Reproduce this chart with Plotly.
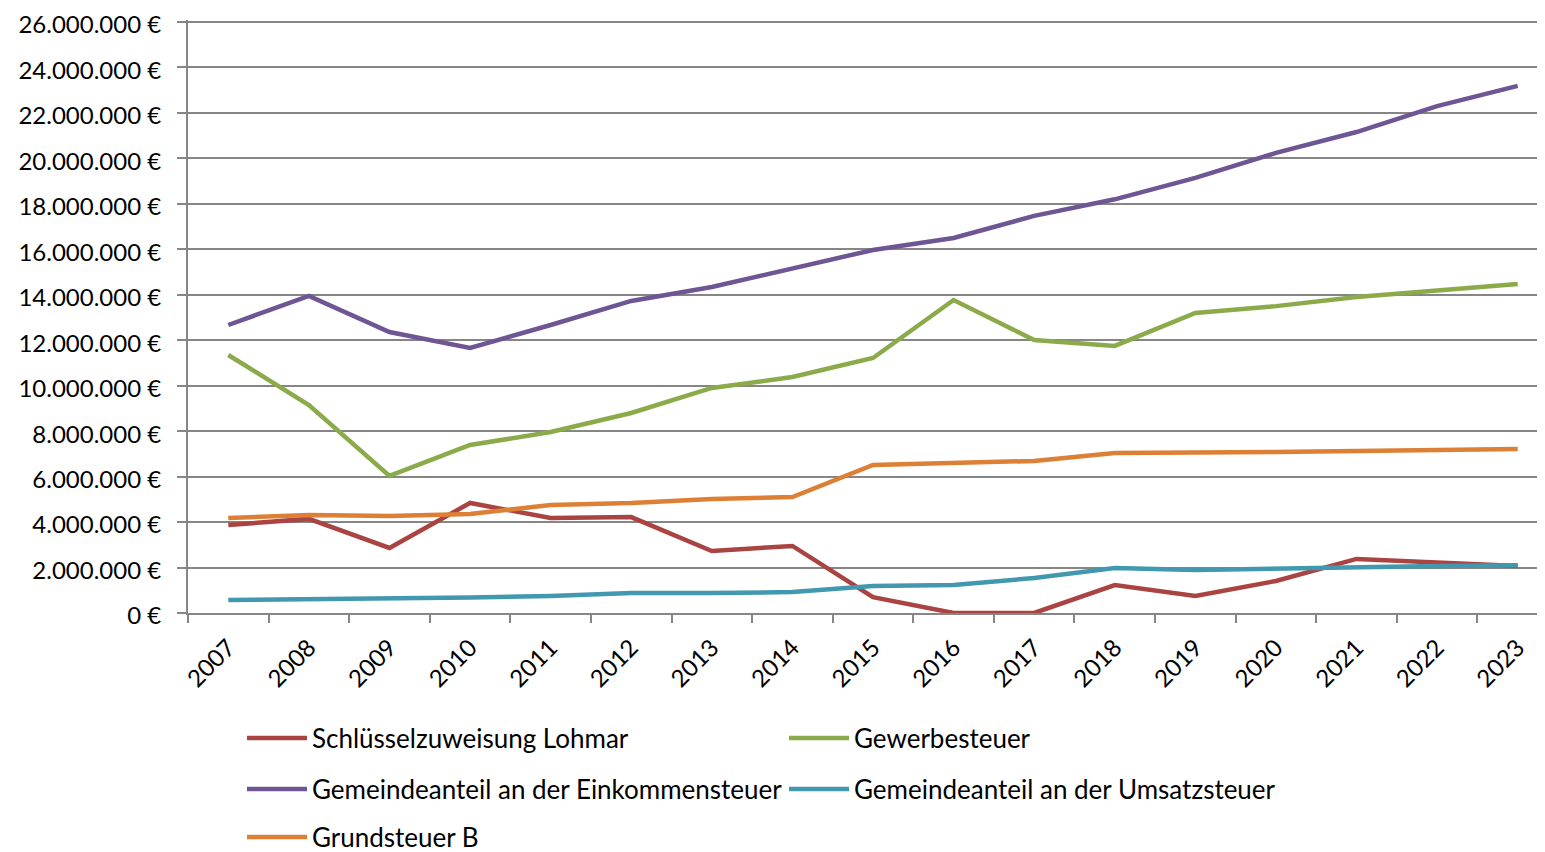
import plotly.graph_objects as go

years = [str(y) for y in range(2007, 2024)]

schluessel = [3.87e6, 4.14e6, 2.86e6, 4.84e6, 4.18e6, 4.22e6, 2.73e6, 2.95e6, 0.70e6, 0.0, 0.0,
              1.23e6, 0.75e6, 1.41e6, 2.38e6, 2.24e6, 2.07e6]
gewerbe = [11.35e6, 9.15e6, 6.03e6, 7.39e6, 7.96e6, 8.80e6, 9.90e6, 10.38e6, 11.22e6, 13.77e6, 12.01e6,
           11.75e6, 13.20e6, 13.50e6, 13.90e6, 14.20e6, 14.47e6]
einkommen = [12.67e6, 13.95e6, 12.36e6, 11.66e6, 12.67e6, 13.73e6, 14.34e6, 15.18e6, 15.97e6, 16.50e6, 17.47e6,
             18.20e6, 19.14e6, 20.24e6, 21.16e6, 22.30e6, 23.19e6]
umsatz = [0.57e6, 0.60e6, 0.66e6, 0.68e6, 0.75e6, 0.88e6, 0.88e6, 0.92e6, 1.19e6, 1.23e6, 1.54e6,
          1.98e6, 1.89e6, 1.96e6, 2.02e6, 2.07e6, 2.10e6]
grundsteuer = [4.18e6, 4.31e6, 4.27e6, 4.36e6, 4.75e6, 4.84e6, 5.02e6, 5.10e6, 6.51e6, 6.60e6, 6.69e6,
               7.04e6, 7.04e6, 7.08e6, 7.13e6, 7.17e6, 7.21e6]

series = [
    ("Schlüsselzuweisung Lohmar", schluessel, "#A94442", "legend"),
    ("Gewerbesteuer", gewerbe, "#8BAA4A", "legend"),
    ("Gemeindeanteil an der Einkommensteuer", einkommen, "#6E5594", "legend2"),
    ("Gemeindeanteil an der Umsatzsteuer", umsatz, "#4198AF", "legend2"),
    ("Grundsteuer B", grundsteuer, "#DD8036", "legend3"),
]

FONT = "Lato"

fig = go.Figure()
for name, vals, color, lg in series:
    fig.add_trace(go.Scatter(x=years, y=vals, mode="lines", name=name,
                             line=dict(color=color, width=4.5), legend=lg))

ytick = list(range(0, 26_000_001, 2_000_000))

# page body adds an 8px margin; figure coordinates are image coordinates minus 8
OFF = 8
W, H = 1545 - OFF, 852 - OFF
EXTRA_PX = 2  # headroom so the top gridline (26 Mio.) is drawn
L, T, R = 188 - OFF, 22 - OFF - EXTRA_PX, 0
B = H - (613 - OFF)
units_per_px = 26_000_000 / (613 - 22)
ymax = 26_000_000 + EXTRA_PX * units_per_px


def cy(p):
    return 1 - (p - OFF) / H


def cx(p):
    return (p - OFF) / W


legend_common = dict(orientation="h", xanchor="left", yanchor="middle",
                     xref="container", yref="container",
                     entrywidth=467, entrywidthmode="pixels",
                     font=dict(family=FONT, size=26, color="#000000"),
                     bgcolor="rgba(0,0,0,0)", itemwidth=60)

fig.update_layout(
    width=W, height=H,
    margin=dict(l=L, r=R, t=T, b=B, autoexpand=False),
    plot_bgcolor="white", paper_bgcolor="white",
    font=dict(family=FONT, size=24, color="#000000"),
    xaxis=dict(type="category", range=[-0.5, 16.5 - 13 / 80.6], automargin=False,
               tickson="boundaries", ticks="outside", ticklen=8, tickcolor="#868686",
               tickwidth=2, showline=True, linecolor="#868686", linewidth=2,
               showgrid=False, tickangle=-45, tickfont=dict(family=FONT, size=24),
               ticklabelstandoff=9, ticklabeloverflow="allow"),
    yaxis=dict(range=[0, ymax], tickvals=ytick, automargin=False,
               ticktext=[("{:,.0f}".format(v).replace(",", ".") + " €") for v in ytick],
               ticks="outside", ticklen=9, tickcolor="#868686", tickwidth=2,
               showline=True, linecolor="#868686", linewidth=2,
               showgrid=True, gridcolor="#868686", gridwidth=2, zeroline=False,
               tickfont=dict(family=FONT, size=24), ticklabelstandoff=11,
               ticklabelshift=3, ticklabeloverflow="allow"),
    legend=dict(x=cx(242), y=cy(738), **legend_common),
    legend2=dict(x=cx(242), y=cy(789), **legend_common),
    legend3=dict(x=cx(242), y=cy(837), **legend_common),
)

fig.write_html("out.html")
